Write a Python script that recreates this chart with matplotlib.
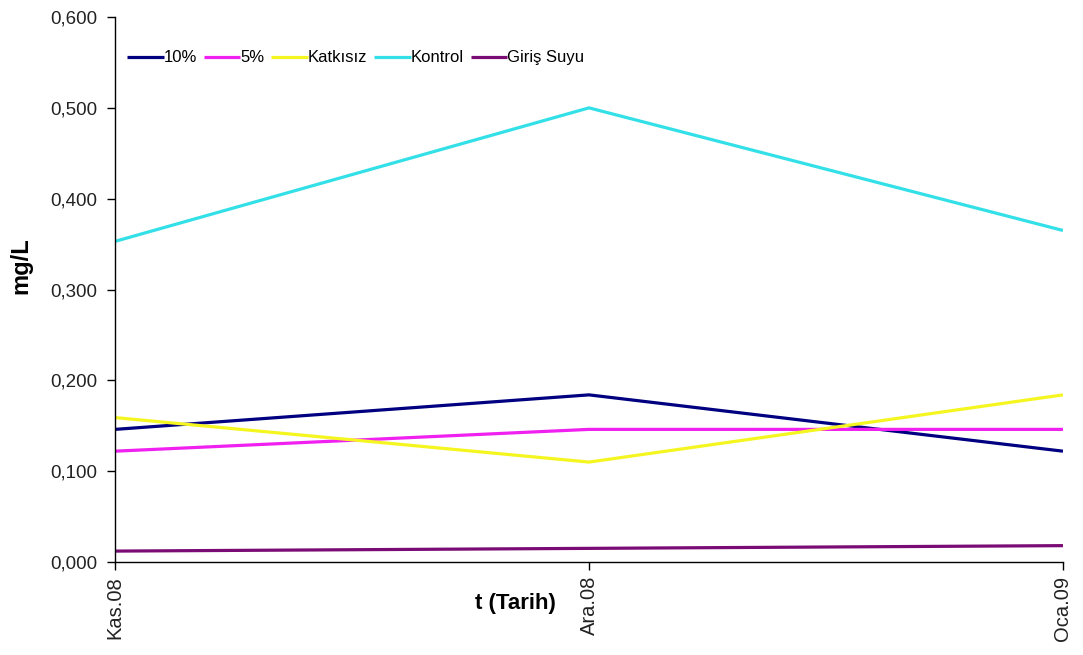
import numpy as np
import matplotlib.pyplot as plt

plt.rcParams['font.family'] = ['Liberation Sans', 'DejaVu Sans']

# monthly measurements (mg/L)
dates = ['Kas.08', 'Ara.08', 'Oca.09']
s_10 = [0.146, 0.184, 0.122]
s_5 = [0.122, 0.146, 0.146]
katkisiz = [0.159, 0.110, 0.184]
kontrol = [0.353, 0.500, 0.365]
giris_suyu = [0.012, 0.015, 0.018]

series = [
    ('10%', s_10, '#000080'),
    ('5%', s_5, '#F020F0'),
    ('Katkısız', katkisiz, '#F5F520'),
    ('Kontrol', kontrol, '#33E0E8'),
    ('Giriş Suyu', giris_suyu, '#7A0A74'),
]

fig = plt.figure(figsize=(10.83, 6.55), dpi=100)
ax = fig.add_axes([0.1062, 0.142, 0.8753, 0.832])

x = np.arange(len(dates))
for name, vals, col in series:
    ax.plot(x, vals, color=col, lw=2.3, label=name, solid_capstyle='butt')

ax.set_xlim(0, 2)
ax.set_ylim(0, 0.6)
yt = np.arange(0, 0.61, 0.1)
ax.set_yticks(yt)
ax.set_yticklabels([f'{v:.3f}'.replace('.', ',') for v in yt])
ax.set_xticks(x)
ax.set_xticklabels(dates, rotation=90)

for s in ['top', 'right']:
    ax.spines[s].set_visible(False)
for s in ['left', 'bottom']:
    ax.spines[s].set_linewidth(1.0)
    ax.spines[s].set_color('black')

ax.tick_params(axis='both', direction='out', length=6, width=1,
               colors='black', labelcolor='#222222')
ax.tick_params(axis='y', labelsize=13.5, pad=7)
ax.tick_params(axis='x', labelsize=14.5, pad=4)

fig.text(515 / 1083, 1 - 603 / 655, 't (Tarih)', fontsize=16, fontweight='bold',
         ha='center', va='center')
fig.text(21 / 1083, 1 - 266 / 655, 'mg/L', fontsize=17, fontweight='bold',
         rotation=90, ha='center', va='center')

ax.legend(loc='center left', bbox_to_anchor=(0.0127, 0.925), ncol=5, frameon=False,
          fontsize=12, handlelength=2.2, handletextpad=0.0, columnspacing=0.4,
          borderaxespad=0, borderpad=0)

fig.savefig('out.png', dpi=100)
